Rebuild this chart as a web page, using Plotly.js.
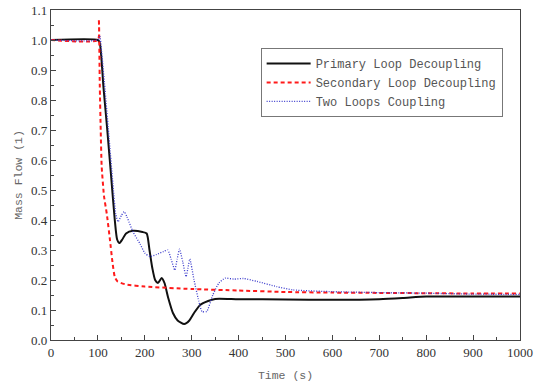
<!DOCTYPE html>
<html>
<head>
<meta charset="utf-8">
<script src="https://cdn.plot.ly/plotly-3.0.1.min.js"></script>
<style>html,body{margin:0;padding:0;background:#fff;}#chart{width:536px;height:387px;}</style>
</head>
<body>
<div id="chart"></div>
<script>
// Primary Loop Decoupling
const primaryT = [0, 100, 104, 112, 120, 128, 136, 141, 146, 152, 160, 175, 195, 204, 210, 216, 222, 228, 236, 242, 250, 260, 270, 284, 295, 305, 318, 335, 350, 400, 500, 600, 700, 750, 800, 900, 1000];
const primaryY = [1.0, 1.0, 0.99, 0.84, 0.70, 0.55, 0.40, 0.335, 0.323, 0.335, 0.355, 0.364, 0.36, 0.355, 0.30, 0.24, 0.20, 0.19, 0.207, 0.19, 0.14, 0.09, 0.065, 0.053, 0.065, 0.09, 0.117, 0.13, 0.137, 0.136, 0.135, 0.134, 0.136, 0.14, 0.145, 0.145, 0.145];

// Secondary Loop Decoupling
const secondaryT = [0, 100, 102, 104, 106, 108, 113, 119, 126, 131, 136, 142, 160, 200, 300, 400, 500, 600, 700, 800, 900, 1000];
const secondaryY = [1.0, 1.0, 1.07, 0.85, 0.70, 0.58, 0.48, 0.42, 0.33, 0.26, 0.21, 0.195, 0.185, 0.178, 0.17, 0.165, 0.16, 0.158, 0.157, 0.156, 0.155, 0.155];

// Two Loops Coupling
const coupledT = [0, 100, 104, 108, 116, 124, 132, 138, 143, 150, 156, 162, 175, 190, 200, 211, 225, 240, 249, 256, 264, 269, 274, 281, 288, 292, 296, 305, 315, 322, 332, 345, 358, 371, 390, 410, 440, 481, 516, 602, 700, 800, 900, 1000];
const coupledY = [1.0, 1.0, 1.015, 0.96, 0.82, 0.67, 0.52, 0.42, 0.394, 0.415, 0.428, 0.41, 0.36, 0.32, 0.29, 0.278, 0.285, 0.295, 0.30, 0.27, 0.233, 0.27, 0.303, 0.26, 0.211, 0.24, 0.27, 0.20, 0.13, 0.095, 0.095, 0.15, 0.19, 0.206, 0.203, 0.205, 0.195, 0.178, 0.167, 0.161, 0.158, 0.156, 0.153, 0.152];

const seriesNames = ["Primary Loop Decoupling", "Secondary Loop Decoupling", "Two Loops Coupling"];
const xTickVals = [0, 100, 200, 300, 400, 500, 600, 700, 800, 900, 1000];
const yTickVals = [0.0, 0.1, 0.2, 0.3, 0.4, 0.5, 0.6, 0.7, 0.8, 0.9, 1.0, 1.1];

const traces = [
  {x: primaryT, y: primaryY, name: seriesNames[0], mode: "lines", line: {color: "#111111", width: 2, shape: "spline", smoothing: 0.6}},
  {x: secondaryT, y: secondaryY, name: seriesNames[1], mode: "lines", line: {color: "#ff1a1a", width: 2, dash: "4px,3px", shape: "spline", smoothing: 0.5}},
  {x: coupledT, y: coupledY, name: seriesNames[2], mode: "lines", line: {color: "#3a3acc", width: 1.3, dash: "1px,1.5px", shape: "spline", smoothing: 0.5}}
];

const axisCommon = {
  showgrid: false, zeroline: false, showline: true, linecolor: "#444", linewidth: 1.2,
  mirror: true, ticks: "inside", ticklen: 5, tickcolor: "#444",
  tickfont: {family: "Liberation Serif, Times New Roman, serif", size: 13, color: "#333"}
};

const layout = {
  width: 536, height: 387,
  margin: {l: 51, r: 16, t: 10, b: 47},
  paper_bgcolor: "#fff", plot_bgcolor: "#fff",
  showlegend: true,
  legend: {x: 0.447, y: 0.885, xanchor: "left", yanchor: "top", bgcolor: "#fff", bordercolor: "#777", borderwidth: 1,
    font: {family: "Liberation Mono, Courier New, monospace", size: 12, color: "#555"}, tracegroupgap: 0, itemwidth: 44},
  xaxis: Object.assign({}, axisCommon, {range: [0, 1000], tickvals: xTickVals,
    minor: {dtick: 50, ticks: "inside", ticklen: 3, tickcolor: "#444"},
    title: {text: "Time (s)", font: {family: "Liberation Mono, monospace", size: 11.5, color: "#666"}, standoff: 12}}),
  yaxis: Object.assign({}, axisCommon, {range: [0, 1.1], tickvals: yTickVals, tickformat: ".1f",
    minor: {dtick: 0.05, ticks: "inside", ticklen: 3, tickcolor: "#444"},
    title: {text: "Mass Flow (1)", font: {family: "Liberation Mono, monospace", size: 11.5, color: "#666"}, standoff: 6}})
};

Plotly.newPlot("chart", traces, layout, {displayModeBar: false, staticPlot: true});
</script>
</body>
</html>
